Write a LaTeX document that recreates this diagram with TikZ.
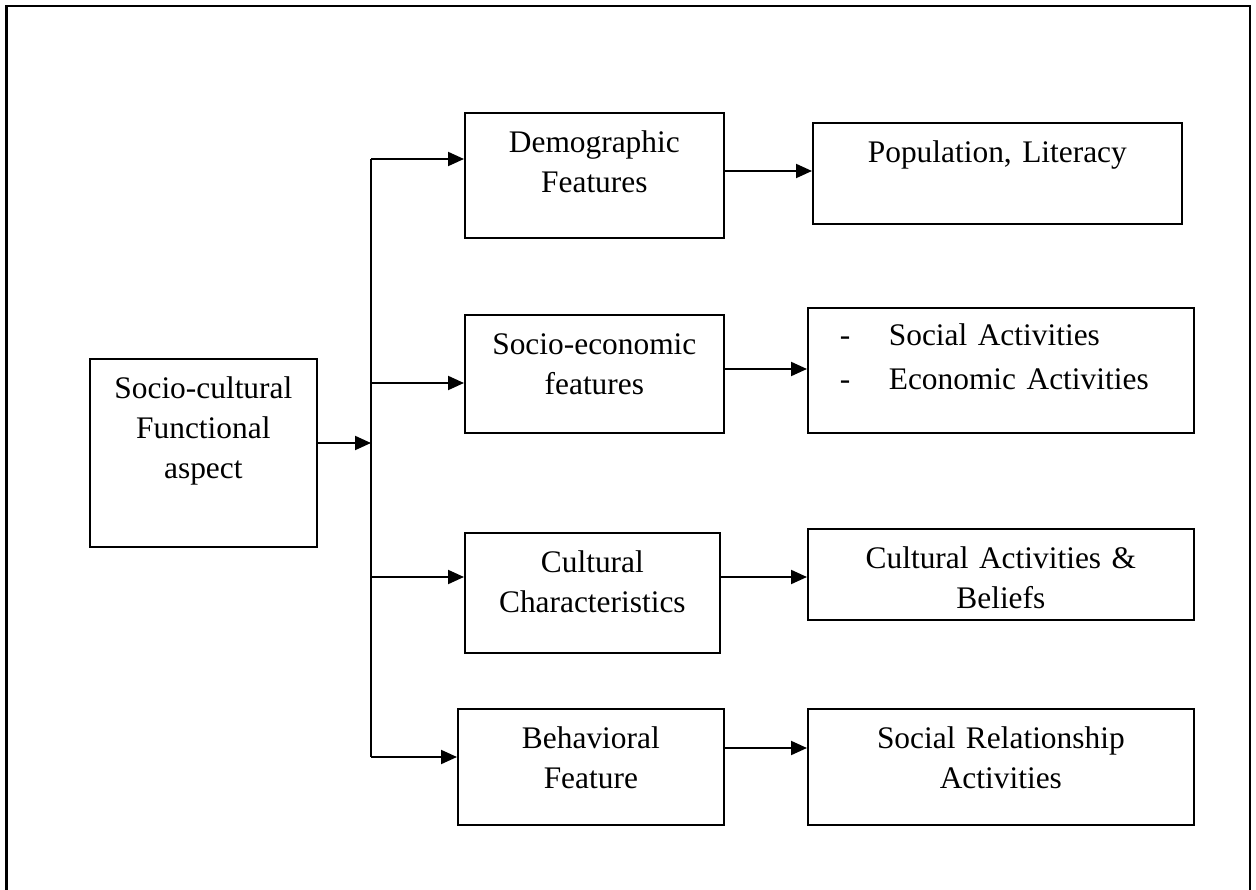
\documentclass[tikz,border=0pt]{standalone}
\usepackage{fontspec}
\setmainfont{Liberation Serif}
\usetikzlibrary{arrows.meta}
\begin{document}
\begin{tikzpicture}[x=1pt, y=-1pt, >={Triangle[length=16pt,width=14pt]}, line join=miter]
	\tikzset{box/.style={draw, line width=1.7pt, anchor=north west, inner sep=0pt, align=center, text height=40pt, font=\fontsize{31.4}{40}\selectfont},
	link/.style={line width=2pt},
	frame/.style={line width=2.4pt}}
	\useasboundingbox (0,0) rectangle (1256,890);
	\draw[frame] (6.5,890) -- (6.5,6) -- (1250,6) -- (1250,890);
	% main box
	\node[box, text width=227pt, text depth=148pt] (soc) at (89,358) {Socio-cultural\\Functional\\aspect};
	% middle column
	\node[box, text width=259pt, text depth=85pt] (demo) at (464,112) {Demographic\\Features};
	\node[box, text width=259pt, text depth=78pt] (seco) at (464,314) {Socio-economic\\features};
	\node[box, text width=255pt, text depth=80pt] (cult) at (464,532) {Cultural\\Characteristics};
	\node[box, text width=266pt, text depth=76pt] (behav) at (457,708) {Behavioral\\Feature};
	% right column
	\node[box, text width=369pt, text depth=61pt] (pop) at (812,122) {Population, Literacy};
	\node[box, align=left, text width=386pt, text height=38pt, text depth=87pt] (seact) at (807,307)
	{\hspace*{32pt}\makebox[49pt][l]{-}Social Activities\\[4pt]\hspace*{32pt}\makebox[49pt][l]{-}Economic Activities};
	\node[box, text width=386pt, text depth=51pt] (cultact) at (807,528) {Cultural Activities \&\\Beliefs};
	\node[box, text width=386pt, text depth=76pt] (rel) at (807,708) {Social Relationship\\Activities};
	% trunk
	\coordinate (j0) at (371,443);
	\coordinate (j1) at (371,159);
	\coordinate (j2) at (371,383);
	\coordinate (j3) at (371,577);
	\coordinate (j4) at (371,757);
	\draw[link] (j1) -- (j4);
	\draw[link,->] (soc.east |- j0) -- (j0);
	\draw[link,->] (j1) -- (demo.west |- j1);
	\draw[link,->] (j2) -- (seco.west |- j2);
	\draw[link,->] (j3) -- (cult.west |- j3);
	\draw[link,->] (j4) -- (behav.west |- j4);
	% second level
	\coordinate (r1) at (0,171);
	\coordinate (r2) at (0,369);
	\coordinate (r3) at (0,577);
	\coordinate (r4) at (0,748);
	\draw[link,->] (demo.east |- r1) -- (pop.west |- r1);
	\draw[link,->] (seco.east |- r2) -- (seact.west |- r2);
	\draw[link,->] (cult.east |- r3) -- (cultact.west |- r3);
	\draw[link,->] (behav.east |- r4) -- (rel.west |- r4);
\end{tikzpicture}
\end{document}
